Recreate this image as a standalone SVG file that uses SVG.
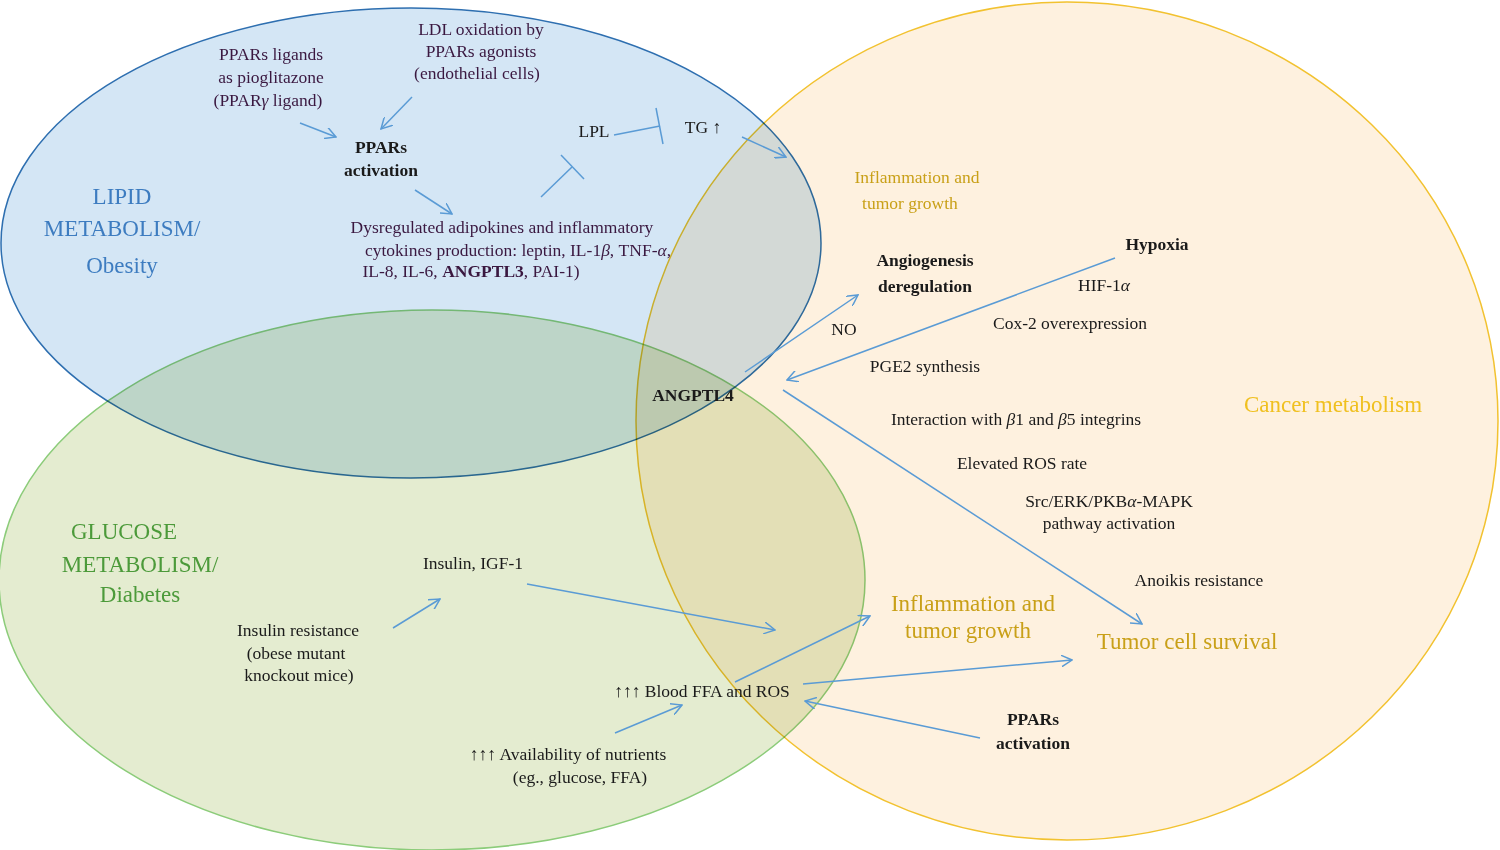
<svg xmlns="http://www.w3.org/2000/svg" width="1500" height="850" viewBox="0 0 1500 850">
<style>
text{font-family:"Liberation Serif","DejaVu Serif",serif;font-size:17.5px;fill:#1a1a1a;text-anchor:middle}
.p{fill:#3a1840}
.b{font-weight:bold}
.gold{fill:#c9a018}
.big{font-size:23px}
.c line,.c path{stroke:#5a9bd5;stroke-width:1.5;fill:none}
.e{mix-blend-mode:multiply}
</style>
<defs>
<marker id="a" viewBox="0 0 12 12" refX="11" refY="6" markerWidth="12" markerHeight="12" markerUnits="userSpaceOnUse" orient="auto"><path d="M0,0 L11,6 L0,12" fill="none" stroke="#5a9bd5" stroke-width="1.5"/></marker>
</defs>
<rect width="1500" height="850" fill="#fff"/>
<g id="ellipses">
<ellipse class="e" cx="1067" cy="421" rx="431" ry="419" fill="#fef1df" stroke="#f2c230" stroke-width="1.5"/>
<ellipse class="e" cx="432" cy="580" rx="433" ry="270" fill="#e4ecd0" stroke="#8ccc7a" stroke-width="1.5"/>
<ellipse class="e" cx="411" cy="243" rx="410" ry="235" fill="#d4e6f5" stroke="#2e6fb0" stroke-width="1.5"/>
</g>
<g id="labels">
<text x="122" y="204" class="big" style="fill:#3d7cc0">LIPID</text>
<text x="122" y="236" class="big" style="fill:#3d7cc0">METABOLISM/</text>
<text x="122" y="273" class="big" style="fill:#3d7cc0">Obesity</text>
<text x="124" y="539" class="big" style="fill:#4c9a3a">GLUCOSE</text>
<text x="140" y="572" class="big" style="fill:#4c9a3a">METABOLISM/</text>
<text x="140" y="602" class="big" style="fill:#4c9a3a">Diabetes</text>
<text x="1333" y="412" class="big" style="fill:#f0c020">Cancer metabolism</text>
</g>
<g id="n-ligands"><text x="271" y="60" class="p">PPARs ligands</text><text x="271" y="83" class="p">as pioglitazone</text><text x="268" y="106" class="p">(PPAR<tspan font-style="italic">γ</tspan> ligand)</text></g>
<g id="n-ldl"><text x="481" y="35" class="p">LDL oxidation by</text><text x="481" y="57" class="p">PPARs agonists</text><text x="477" y="79" class="p">(endothelial cells)</text></g>
<g id="n-ppars1"><text x="381" y="153" class="b">PPARs</text><text x="381" y="176" class="b">activation</text></g>
<g id="n-lpl"><text x="594" y="137">LPL</text></g>
<g id="n-tg"><text x="703" y="133">TG ↑</text></g>
<g id="n-dys"><text x="502" y="233" class="p">Dysregulated adipokines and inflammatory</text><text x="518" y="256" class="p">cytokines production: leptin, IL-1<tspan font-style="italic">β</tspan>, TNF-<tspan font-style="italic">α</tspan>,</text><text x="471" y="277" class="p">IL-8, IL-6, <tspan font-weight="bold">ANGPTL3</tspan>, PAI-1)</text></g>
<g id="n-infl1"><text x="917" y="183" class="gold">Inflammation and</text><text x="910" y="209" class="gold">tumor growth</text></g>
<g id="n-angio"><text x="925" y="266" class="b">Angiogenesis</text><text x="925" y="292" class="b">deregulation</text></g>
<g id="n-hypoxia"><text x="1157" y="250" class="b">Hypoxia</text></g>
<g id="n-hif"><text x="1104" y="291">HIF-1<tspan font-style="italic">α</tspan></text></g>
<g id="n-cox"><text x="1070" y="329">Cox-2 overexpression</text></g>
<g id="n-no"><text x="844" y="335">NO</text></g>
<g id="n-pge"><text x="925" y="372">PGE2 synthesis</text></g>
<g id="n-angptl4"><text x="693" y="401" class="b">ANGPTL4</text></g>
<g id="n-integ"><text x="1016" y="425">Interaction with <tspan font-style="italic">β</tspan>1 and <tspan font-style="italic">β</tspan>5 integrins</text></g>
<g id="n-ros"><text x="1022" y="469">Elevated ROS rate</text></g>
<g id="n-src"><text x="1109" y="507">Src/ERK/PKB<tspan font-style="italic">α</tspan>-MAPK</text><text x="1109" y="529">pathway activation</text></g>
<g id="n-anoikis"><text x="1199" y="586">Anoikis resistance</text></g>
<g id="n-survival"><text x="1187" y="649" class="gold big">Tumor cell survival</text></g>
<g id="n-infl2"><text x="973" y="611" class="gold big">Inflammation and</text><text x="968" y="638" class="gold big">tumor growth</text></g>
<g id="n-insulin"><text x="473" y="569">Insulin, IGF-1</text></g>
<g id="n-ir"><text x="298" y="636">Insulin resistance</text><text x="296" y="659">(obese mutant</text><text x="299" y="681">knockout mice)</text></g>
<g id="n-ffa"><text x="702" y="697">↑↑↑ Blood FFA and ROS</text></g>
<g id="n-ppars2"><text x="1033" y="725" class="b">PPARs</text><text x="1033" y="749" class="b">activation</text></g>
<g id="n-nutr"><text x="568" y="760">↑↑↑ Availability of nutrients</text><text x="580" y="783">(eg., glucose, FFA)</text></g>
<g id="connectors" class="c">
<line x1="300" y1="123" x2="336" y2="137" marker-end="url(#a)"/>
<line x1="412" y1="97" x2="381" y2="129" marker-end="url(#a)"/>
<line x1="415" y1="190" x2="452" y2="214" marker-end="url(#a)"/>
<line x1="541" y1="197" x2="572" y2="167"/>
<line x1="561" y1="155" x2="584" y2="179"/>
<line x1="614" y1="135" x2="660" y2="126"/>
<line x1="656" y1="108" x2="663" y2="144"/>
<line x1="742" y1="137" x2="786" y2="157" marker-end="url(#a)"/>
<line x1="745" y1="372" x2="858" y2="295" marker-end="url(#a)"/>
<line x1="1115" y1="258" x2="787" y2="380" marker-end="url(#a)"/>
<line x1="783" y1="390" x2="1142" y2="624" marker-end="url(#a)"/>
<line x1="393" y1="628" x2="440" y2="599" marker-end="url(#a)"/>
<line x1="527" y1="584" x2="775" y2="630" marker-end="url(#a)"/>
<line x1="735" y1="682" x2="870" y2="616" marker-end="url(#a)"/>
<line x1="803" y1="684" x2="1072" y2="660" marker-end="url(#a)"/>
<line x1="980" y1="738" x2="805" y2="701" marker-end="url(#a)"/>
<line x1="615" y1="733" x2="682" y2="705" marker-end="url(#a)"/>
</g>
</svg>
